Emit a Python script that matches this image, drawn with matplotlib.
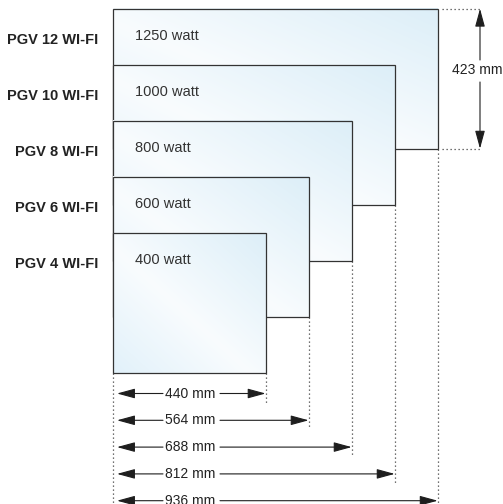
import numpy as np
import matplotlib
matplotlib.use("Agg")
import matplotlib.pyplot as plt
from matplotlib.patches import Rectangle, FancyArrowPatch

plt.rcParams['font.family'] = ['Liberation Sans', 'DejaVu Sans']

# data (mm / watt)
models = ['PGV 4 WI-FI', 'PGV 6 WI-FI', 'PGV 8 WI-FI', 'PGV 10 WI-FI', 'PGV 12 WI-FI']
watts = [400, 600, 800, 1000, 1250]
widths_mm = [440, 564, 688, 812, 936]
height_mm = 423

# layout: drawing scale (px per mm) and anchor of the smallest panel
SX = 324.7 / 936
SY = 140.0 / 423
X0_PX, Y0_PX = 113, 372.7
W_PX, H_PX = 503, 504
STEP = 56 / SY          # vertical shift between stacked panels


def px_x(p):
    return (p - X0_PX) / SX


def px_y(p):
    return (Y0_PX - p) / SY


def arrow(ax, start, end):
    ax.add_patch(FancyArrowPatch(start, end,
                                 arrowstyle='-|>,head_length=1.1,head_width=0.3',
                                 mutation_scale=10, lw=0.8, color='#1e1e1e',
                                 shrinkA=0, shrinkB=0, zorder=30))


def dotted(ax, xs, ys):
    ax.plot(xs, ys, linestyle=(0, (1, 2.2)), lw=0.9, color='#444444', zorder=5)


# diagonal light-blue gradient used to fill every panel
n = 64
u, v = np.meshgrid(np.linspace(0, 1, n), np.linspace(0, 1, n))
t = (u + v) / 2
c_bl = np.array([0.885, 0.945, 0.980])
c_mid = np.array([0.975, 0.988, 0.996])
c_tr = np.array([0.865, 0.935, 0.972])
k1 = np.clip(t / 0.45, 0, 1)[..., None]
k2 = np.clip((t - 0.45) / 0.55, 0, 1)[..., None]
grad = np.where(t[..., None] < 0.45,
                c_bl + (c_mid - c_bl) * k1,
                c_mid + (c_tr - c_mid) * k2)

fig = plt.figure(figsize=(W_PX / 100, H_PX / 100), dpi=100)
ax = fig.add_axes([0, 0, 1, 1])

# panels, biggest at the back
for i in reversed(range(len(models))):
    y0 = i * STEP
    w = widths_mm[i]
    z = 20 - 2 * i
    ax.imshow(grad, extent=[0, w, y0, y0 + height_mm], origin='lower',
              aspect='auto', interpolation='bilinear', zorder=z)
    ax.add_patch(Rectangle((0, y0), w, height_mm, fill=False,
                           ec='#333333', lw=0.9, zorder=z + 0.5))
    ax.text(px_x(98), y0 + height_mm - 31 / SY, models[i], ha='right', va='center',
            fontsize=10.5, fontweight='bold', color='#222222')
    ax.text(px_x(135), y0 + height_mm - 27 / SY, f'{watts[i]} watt', ha='left',
            va='center', fontsize=10.5, color='#333333', zorder=25)

# width dimension lines
y_bottom = px_y(H_PX)
dotted(ax, [0, 0], [0, y_bottom])
for i, w in enumerate(widths_mm):
    y = px_y(393.5 + 26.8 * i)
    y_end = y - 9 / SY if i < len(widths_mm) - 1 else y_bottom
    dotted(ax, [w, w], [i * STEP, y_end])
    arrow(ax, (px_x(163), y), (px_x(117), y))
    arrow(ax, (px_x(220), y), (w, y))
    ax.text(px_x(190), y, f'{w} mm', ha='center', va='center',
            fontsize=10, color='#222222')

# height dimension
y_top = (len(models) - 1) * STEP + height_mm
y_low = (len(models) - 1) * STEP
dotted(ax, [px_x(442), px_x(482)], [y_top, y_top])
dotted(ax, [px_x(442), px_x(482)], [y_low, y_low])
arrow(ax, (px_x(480), px_y(60)), (px_x(480), y_top))
arrow(ax, (px_x(480), px_y(82)), (px_x(480), y_low))
ax.text(px_x(477), px_y(70), f'{height_mm} mm', ha='center', va='center',
        fontsize=10, color='#222222')

ax.set_xlim(px_x(0), px_x(W_PX))
ax.set_ylim(px_y(H_PX), px_y(0))
ax.axis('off')

fig.savefig('out.png', dpi=100)
